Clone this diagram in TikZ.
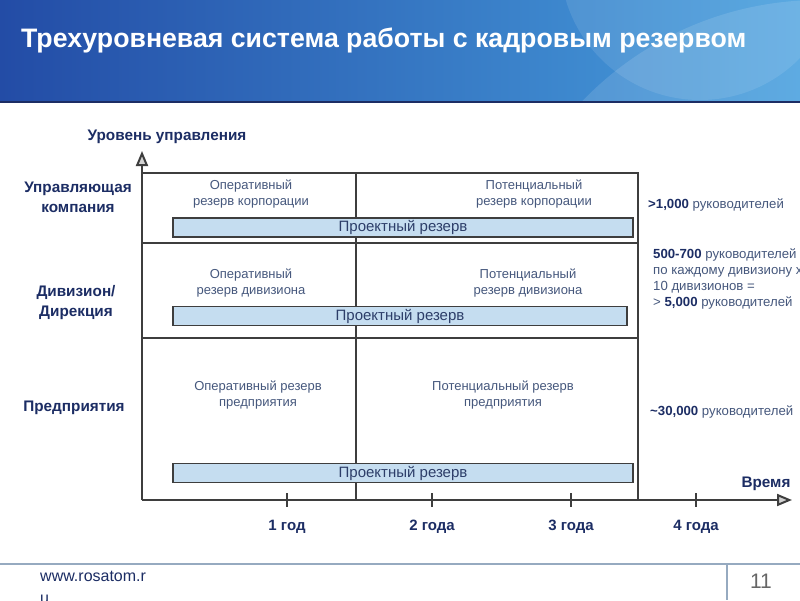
\documentclass[tikz,border=0pt]{standalone}
\usepackage{fontspec}
\setmainfont{Liberation Sans}
\usetikzlibrary{arrows.meta}
\definecolor{navy}{RGB}{28,45,100}
\definecolor{celltext}{RGB}{70,88,125}
\definecolor{bartext}{RGB}{45,62,105}
\definecolor{barfill}{RGB}{197,221,240}
\definecolor{gridline}{RGB}{62,62,62}
\definecolor{headleft}{RGB}{35,76,166}
\definecolor{headright}{RGB}{72,160,222}
\definecolor{footline}{RGB}{150,170,192}
\newcommand{\headcount}[1]{\textbf{\color{navy}#1}}

\begin{document}
\begin{tikzpicture}[x=1pt, y=-1pt,
    >={Triangle[width=12pt,length=15pt,fill=gray!35]},
    every node/.style={inner sep=0pt},
    title/.style={font=\fontsize{26.7}{30}\bfseries, text=white, anchor=west},
    level/.style={font=\fontsize{15.3}{20}\bfseries, text=navy, align=center},
    cell/.style={font=\fontsize{13}{16}\selectfont, text=celltext, align=center},
    bar/.style={draw=gridline, fill=barfill, line width=1.6pt, minimum height=19pt, font=\fontsize{15}{17}\selectfont, text=bartext},
    count/.style={font=\fontsize{13.2}{15.7}\selectfont, text=celltext, align=left, anchor=west},
    yearlab/.style={font=\fontsize{15}{17}\bfseries, text=navy},
    axis/.style={draw=gridline, line width=2pt},
    gridrule/.style={draw=gridline, line width=2pt}
]
\useasboundingbox (0,0) rectangle (800,600);
\fill[white] (0,0) rectangle (800,600);
\shade[left color=headleft, right color=headright] (0,0) rectangle (800,102);
\begin{scope}
\clip (0,0) rectangle (800,102);
\fill[white, opacity=0.12] (820,330) circle (330);
\fill[white, opacity=0.10] (700,-40) circle (140);
\end{scope}
\draw[navy, line width=2pt] (0,102) -- (800,102);
\node[title] (head) at (21,40) {Трехуровневая система работы с кадровым резервом};

\coordinate (origin) at (142,500);
\coordinate (ytip) at (142,151);
\coordinate (xtip) at (792,500);
\draw[axis,->] (origin) -- (ytip);
\draw[axis,->] (origin) -- (xtip);
\node[level] (yname) at (167,137) {Уровень управления};
\node[level] (xname) at (766,484) {Время};

\draw[gridrule] (142,173) -- (638,173) -- (638,500);
\draw[gridrule] (142,243) -- (638,243);
\draw[gridrule] (142,338) -- (638,338);
\draw[gridrule] (356,173) -- (356,500);

\node[level] (corp) at (78,197) {Управляющая\\компания};
\node[level] (div) at (76,303) {Дивизион/\\Дирекция};
\node[level] (ent) at (74,408) {Предприятия};

\node[cell] (opcorp) at (251,194) {Оперативный\\резерв корпорации};
\node[cell] (potcorp) at (534,194) {Потенциальный\\резерв корпорации};
\node[cell] (opdiv) at (251,283) {Оперативный\\резерв дивизиона};
\node[cell] (potdiv) at (528,283) {Потенциальный\\резерв дивизиона};
\node[cell] (opent) at (258,395) {Оперативный резерв\\предприятия};
\node[cell] (potent) at (503,395) {Потенциальный резерв\\предприятия};

\node[bar, minimum width=460pt] (proj1) at (403,227.5) {Проектный резерв};
\node[bar, minimum width=454pt] (proj2) at (400,316) {Проектный резерв};
\node[bar, minimum width=460pt] (proj3) at (403,473) {Проектный резерв};

\node[count] (n1) at (648,205) {\headcount{>1,000} руководителей};
\node[count] (n2) at (653,279) {\headcount{500-700} руководителей\\по каждому дивизиону х\\10 дивизионов =\\> \headcount{5,000} руководителей};
\node[count] (n3) at (650,412) {\headcount{\textasciitilde30,000} руководителей};

\draw[axis] (287,493) -- (287,507);
\draw[axis] (432,493) -- (432,507);
\draw[axis] (571,493) -- (571,507);
\draw[axis] (696,493) -- (696,507);
\node[yearlab] (y1) at (287,527) {1 год};
\node[yearlab] (y2) at (432,527) {2 года};
\node[yearlab] (y3) at (571,527) {3 года};
\node[yearlab] (y4) at (696,527) {4 года};

\draw[footline, line width=1.5pt] (0,564) -- (800,564);
\draw[footline, line width=1.2pt] (727,564) -- (727,600);
\node[font=\fontsize{16}{22}\selectfont, text=navy, align=left, anchor=north west] (site) at (40,571) {www.rosatom.r\\u};
\node[font=\fontsize{21}{24}\selectfont, text=gray!80!black] (page) at (761,581) {11};
\end{tikzpicture}
\end{document}
